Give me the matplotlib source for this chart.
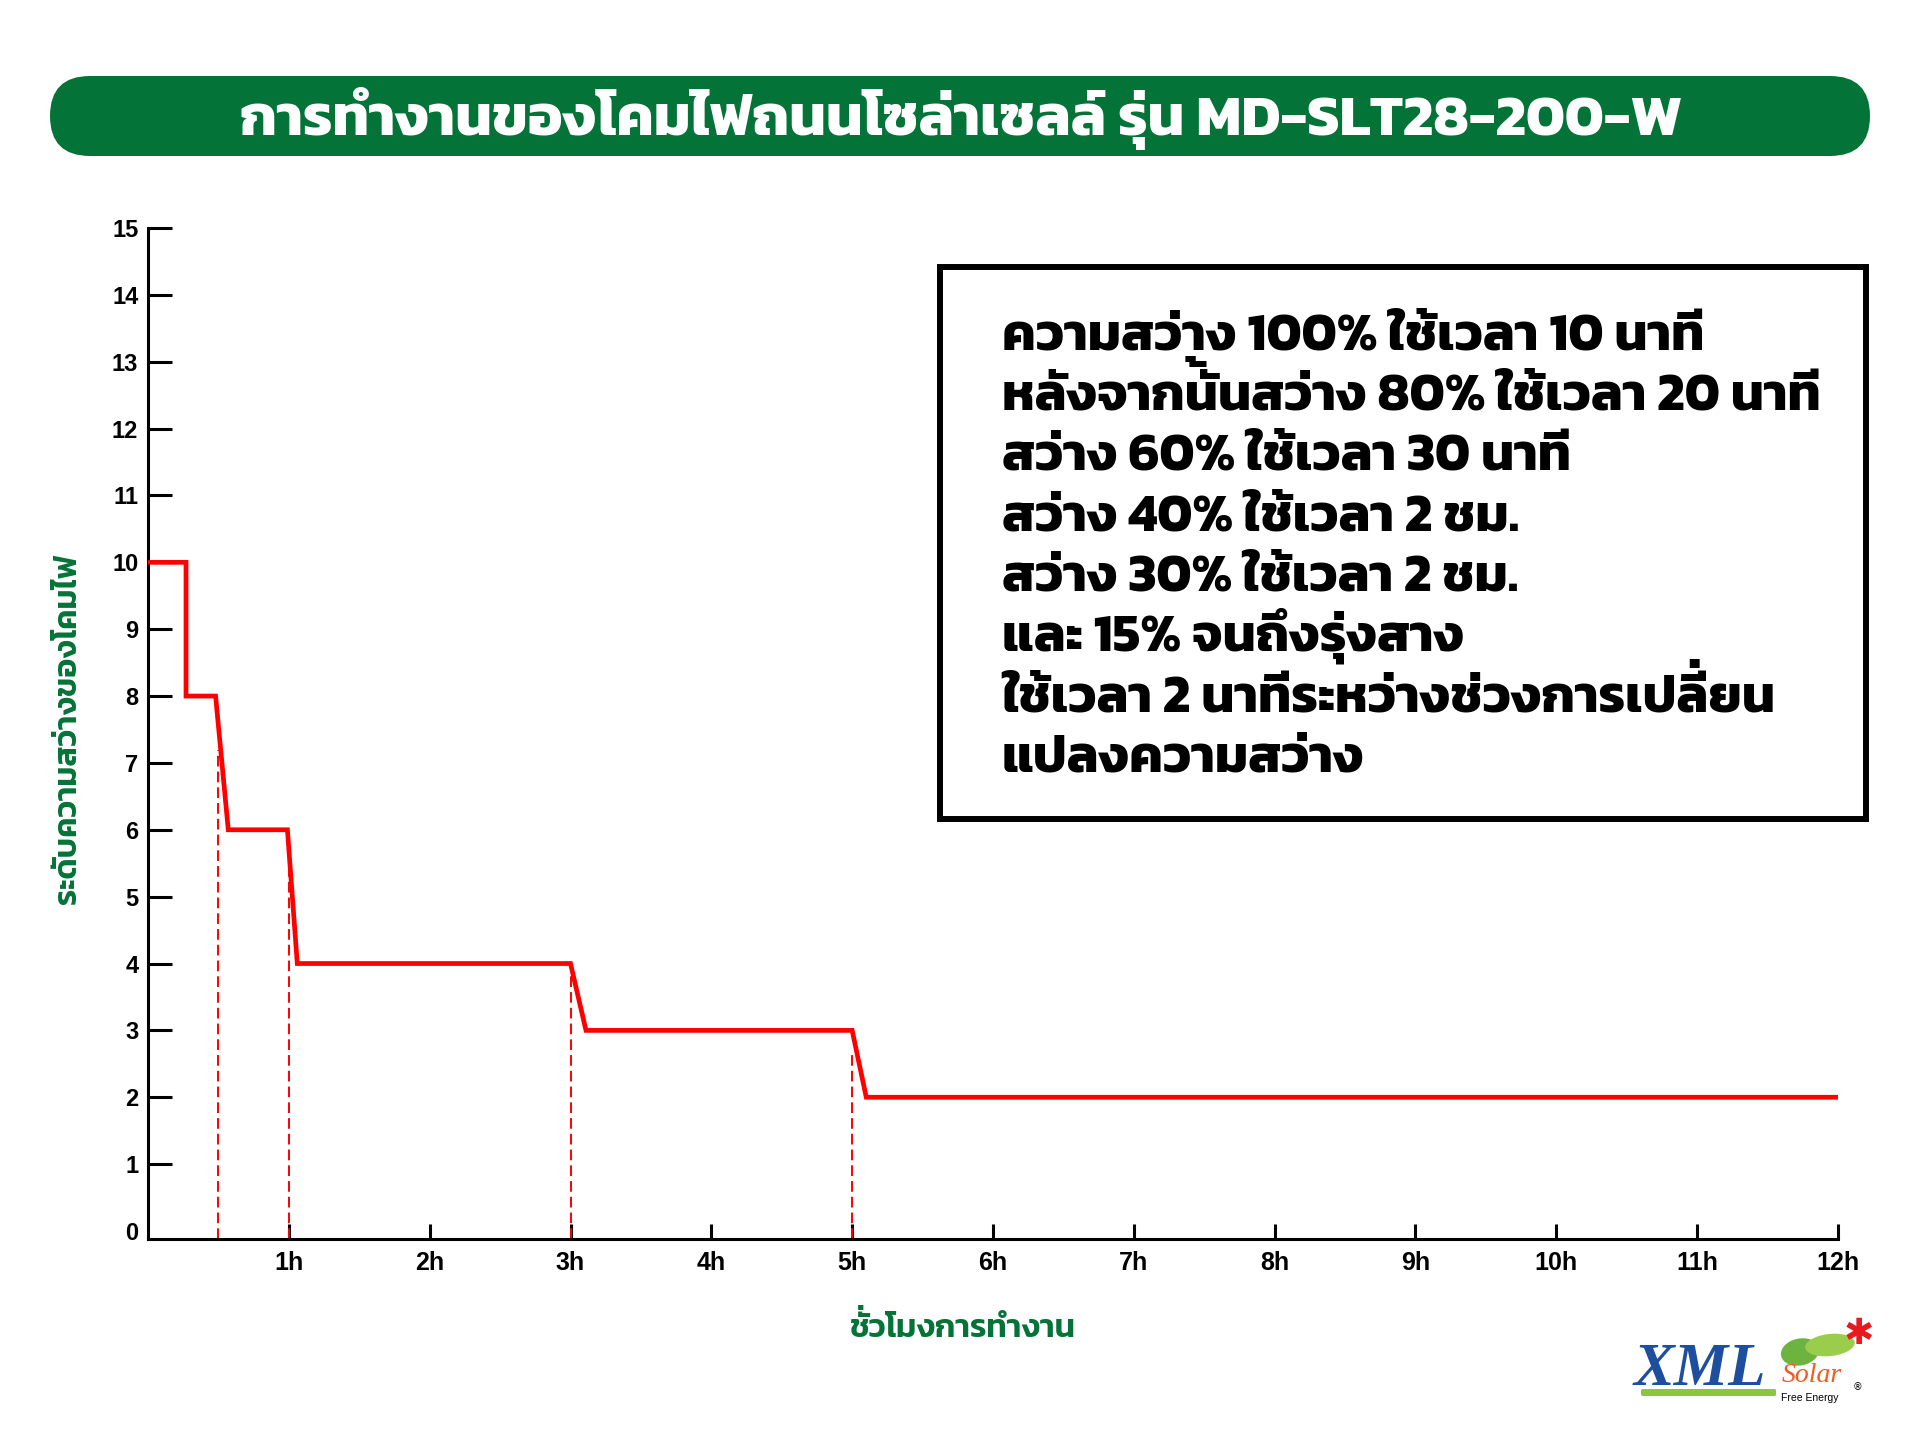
import numpy as np
import matplotlib
matplotlib.use("Agg")
import matplotlib.pyplot as plt
from matplotlib.patches import FancyBboxPatch, Rectangle, Ellipse
from matplotlib.path import Path
from matplotlib.textpath import TextPath
from matplotlib.font_manager import FontProperties

# ข้อมูล
times = [0, 0.27, 0.27, 0.48, 0.57, 0.99, 1.06, 3.0, 3.11, 5.0, 5.1, 12]
levels = [10, 10, 8, 8, 6, 6, 4, 4, 3, 3, 2, 2]
mark_times = [0.5, 1, 3, 5]
mark_tops = [7.2, 5.6, 3.85, 2.7]
x_ticks = list(range(1, 13))
x_labels = [f"{h}h" for h in x_ticks]
y_ticks = list(range(0, 16))

title = "การทำงานของโคมไฟถนนโซล่าเซลล์ รุ่น MD-SLT28-200-W"
xlabel = "ชั่วโมงการทำงาน"
ylabel = "ระดับความสว่างของโคมไฟ"
notes = [
    "ความสว่าง 100% ใช้เวลา 10 นาที",
    "หลังจากนั้นสว่าง 80% ใช้เวลา 20 นาที",
    "สว่าง 60% ใช้เวลา 30 นาที",
    "สว่าง 40% ใช้เวลา 2 ชม.",
    "สว่าง 30% ใช้เวลา 2 ชม.",
    "และ 15% จนถึงรุ่งสาง",
    "ใช้เวลา 2 นาทีระหว่างช่วงการเปลี่ยน",
    "แปลงความสว่าง",
]

GREEN = "#047337"
THAI = "Kanit"
W, H, DPI = 1920, 1454, 100
K = DPI / 72  # pt -> px

fig = plt.figure(figsize=(W / DPI, H / DPI), dpi=DPI)
renderer = fig.canvas.get_renderer()

TONES = "\u0e48\u0e49\u0e4a\u0e4b\u0e4c"
UPPER = "\u0e31\u0e34\u0e35\u0e36\u0e37\u0e47"


def px(x, y):
    # พิกัดพิกเซลจากมุมซ้ายบน -> สัดส่วนของรูป
    return x / W, 1 - y / H


def outline(s, size, prop):
    # จุดของเส้นขอบตัวอักษร (ไม่รวมจุด CLOSEPOLY)
    if not s:
        return np.zeros((0, 2)), 0
    p = TextPath((0, 0), s, size=size, prop=prop)
    v, c = p.vertices, p.codes
    return v[c != Path.CLOSEPOLY], len(v)


def thai_text(x, y, s, size, ha="left", weight="bold", **kw):
    # matplotlib ไม่จัดวรรณยุกต์ซ้อนสระบน จึงวาดวรรณยุกต์เหล่านั้นแยก
    prop = FontProperties(family=THAI, weight=weight)
    stacked = [i for i in range(1, len(s)) if s[i] in TONES and s[i - 1] in UPPER]
    main = "".join(c for i, c in enumerate(s) if i not in stacked)
    fig.text(*px(x, y), main, fontsize=size, family=THAI, weight=weight,
             ha=ha, va="baseline", **kw)
    mv, _ = outline(main, size, prop)
    x0 = mv[:, 0].min() if ha == "left" else (mv[:, 0].min() + mv[:, 0].max()) / 2
    for i in stacked:
        pa = TextPath((0, 0), s[:i - 1], size=size, prop=prop) if i > 1 else None
        pb = TextPath((0, 0), s[:i], size=size, prop=prop)
        pc = TextPath((0, 0), s[:i + 1], size=size, prop=prop)
        na = len(pa.vertices) if pa is not None else 0
        nb = len(pb.vertices)
        vowel = pb.vertices[na:][pb.codes[na:] != Path.CLOSEPOLY]
        tone = pc.vertices[nb:][pc.codes[nb:] != Path.CLOSEPOLY]
        lift = vowel[:, 1].max() - tone[:, 1].min() + 0.04 * size
        cx = (tone[:, 0].min() + tone[:, 0].max()) / 2
        fig.text(*px(x + (cx - x0) * K, y - lift * K), s[i], fontsize=size,
                 family=THAI, weight=weight, ha="center", va="baseline", **kw)


def fit_size(s, width, weight="bold"):
    prop = FontProperties(family=THAI, weight=weight)
    v, _ = outline(s, 30, prop)
    return 30 * width / ((v[:, 0].max() - v[:, 0].min()) * K)


# แถบหัวเรื่อง
x0, y0 = px(50, 156)
x1, y1 = px(1870, 76)
bar = FancyBboxPatch((x0, y0), x1 - x0, y1 - y0,
                     boxstyle=f"round,pad=0,rounding_size={40 / W}",
                     mutation_aspect=W / H, transform=fig.transFigure,
                     facecolor=GREEN, edgecolor="none")
fig.patches.append(bar)
thai_text(961, 135, title, fit_size(title, 1438), ha="center", color="white")

# กราฟ
ax = fig.add_axes([148 / W, 1 - 1239 / H, 1690 / W, 1011 / H])
ax.plot(times, levels, color="#FF0000", lw=3.4, solid_joinstyle="miter", zorder=3)
for xt, yt in zip(mark_times, mark_tops):
    ax.plot([xt, xt], [-0.12, yt], color="#FF0000", lw=1.4, dashes=(5.5, 2.6), zorder=2)

ax.set_xlim(0, 12)
ax.set_ylim(-0.12, 15)
ax.spines["top"].set_visible(False)
ax.spines["right"].set_visible(False)
ax.spines["left"].set_linewidth(2.2)
ax.spines["bottom"].set_linewidth(2.2)
ax.set_xticks(x_ticks)
ax.set_xticklabels(x_labels)
ax.set_yticks(y_ticks)
ax.tick_params(axis="y", direction="in", length=17, width=2.2, pad=7,
               labelsize=17)
ax.tick_params(axis="x", direction="in", length=11, width=2.2, pad=9,
               labelsize=18)
ax.yaxis.get_major_ticks()[0].tick1line.set_visible(False)
for lab in ax.get_xticklabels() + ax.get_yticklabels():
    lab.set_family("Liberation Sans")
    lab.set_weight("bold")

# ชื่อแกน
thai_text(962, 1337, xlabel, fit_size(xlabel, 223, "semibold"), ha="center",
          weight="semibold", color=GREEN)
t = fig.text(*px(69, 729), ylabel, color=GREEN, fontsize=20, weight="semibold",
             family=THAI, ha="center", va="center", rotation=90)
t.set_fontsize(20 * 351 / t.get_window_extent(renderer).height)

# กล่องคำอธิบาย
bx0, by0 = px(940, 819)
bx1, by1 = px(1866, 267)
fig.patches.append(Rectangle((bx0, by0), bx1 - bx0, by1 - by0, transform=fig.transFigure,
                             facecolor="white", edgecolor="black", lw=4.3))
note_size = fit_size(notes[1], 813)
for i, line in enumerate(notes):
    thai_text(1002, 349 + 60.4 * i, line, note_size, ha="left")

# โลโก้
fig.text(*px(1700, 1385), "XML", color="#1D4F9E", fontsize=44, weight="bold",
         style="italic", family="Liberation Serif", ha="center", va="baseline")
fig.patches.append(FancyBboxPatch(px(1641, 1396), 135 / W, 7 / H,
                                  boxstyle="round,pad=0,rounding_size=0.001",
                                  transform=fig.transFigure, facecolor="#8CC63F", edgecolor="none"))
fig.patches.append(Ellipse(px(1800, 1352), 40 / W, 26 / H, angle=35,
                           transform=fig.transFigure, facecolor="#6DB33F", edgecolor="none"))
fig.patches.append(Ellipse(px(1830, 1345), 50 / W, 22 / H, angle=10,
                           transform=fig.transFigure, facecolor="#9ACD4B", edgecolor="none"))
fig.text(*px(1812, 1382), "Solar", color="#F15A24", fontsize=20, style="italic",
         family="Liberation Serif", ha="center", va="baseline")
fig.text(*px(1810, 1401), "Free Energy", color="black", fontsize=7.5,
         family="Liberation Sans", ha="center", va="baseline")
fig.text(*px(1858, 1390), "®", color="black", fontsize=7, ha="center", va="baseline")
fig.text(*px(1859, 1334), "✱", color="#E8191F", fontsize=26, ha="center", va="center",
         family="DejaVu Sans")

fig.savefig("out.png", dpi=DPI)
